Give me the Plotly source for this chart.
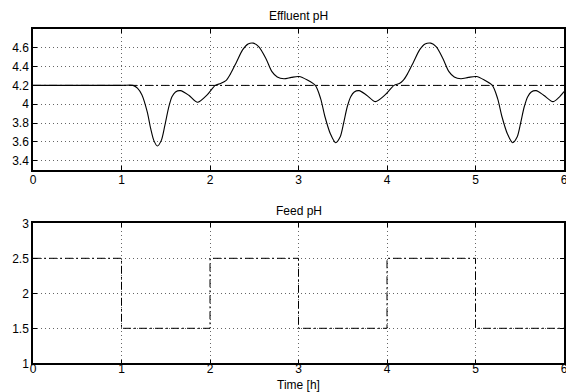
import plotly.graph_objects as go

# Effluent pH (time in hours, pH)
eff_t = [0.0, 0.5, 1.0, 1.13, 1.18, 1.23, 1.29, 1.33, 1.365, 1.405, 1.45, 1.49, 1.53, 1.57, 1.61,
         1.665, 1.76, 1.86, 1.965, 2.06, 2.12, 2.18, 2.23, 2.3, 2.37, 2.43, 2.49, 2.55, 2.63, 2.70,
         2.76, 2.835, 2.92, 3.005, 3.10, 3.19, 3.25, 3.30, 3.36, 3.42, 3.47, 3.51, 3.55, 3.59, 3.63,
         3.685, 3.77, 3.87, 3.975, 4.08, 4.14, 4.18, 4.23, 4.3, 4.37, 4.43, 4.495, 4.555, 4.63, 4.70,
         4.76, 4.835, 4.92, 5.01, 5.10, 5.19, 5.25, 5.30, 5.36, 5.42, 5.47, 5.51, 5.55, 5.59, 5.63,
         5.685, 5.77, 5.875, 5.94, 6.0]
eff_ph = [4.2, 4.2, 4.2, 4.2, 4.17, 4.10, 3.92, 3.74, 3.615, 3.556, 3.615, 3.775, 3.954, 4.078, 4.13,
          4.144, 4.096, 4.02, 4.096, 4.2, 4.22, 4.25, 4.32, 4.45, 4.58, 4.64, 4.65, 4.613, 4.49, 4.346,
          4.289, 4.27, 4.285, 4.294, 4.257, 4.20, 4.06, 3.864, 3.686, 3.59, 3.65, 3.80, 3.97, 4.08, 4.13,
          4.144, 4.096, 4.027, 4.096, 4.2, 4.22, 4.25, 4.32, 4.45, 4.58, 4.64, 4.65, 4.613, 4.49, 4.346,
          4.289, 4.27, 4.285, 4.294, 4.257, 4.20, 4.06, 3.864, 3.686, 3.59, 3.65, 3.80, 3.97, 4.08, 4.13,
          4.144, 4.096, 4.027, 4.07, 4.135]

# Setpoint
sp_t = [0, 6]
sp_ph = [4.2, 4.2]

# Feed pH (step changes)
feed_t = [0, 1, 2, 3, 4, 5, 6]
feed_ph = [2.5, 1.5, 2.5, 1.5, 2.5, 1.5, 1.5]

x_ticks = [0, 1, 2, 3, 4, 5, 6]
top_yticks = [3.4, 3.6, 3.8, 4.0, 4.2, 4.4, 4.6]
top_ylabels = ["3.4", "3.6", "3.8", "4", "4.2", "4.4", "4.6"]
bot_yticks = [1, 1.5, 2, 2.5, 3]
bot_ylabels = ["1", "1.5", "2", "2.5", "3"]

FONT = "Liberation Sans, Arial, Helvetica, sans-serif"
DASHDOT = "8px,3px,2px,3px"

fig = go.Figure()
fig.add_trace(go.Scatter(x=sp_t, y=sp_ph, mode="lines", xaxis="x", yaxis="y",
                         line=dict(color="black", width=1, dash=DASHDOT), showlegend=False))
fig.add_trace(go.Scatter(x=eff_t, y=eff_ph, mode="lines", xaxis="x", yaxis="y",
                         line=dict(color="black", width=1.1, shape="spline", smoothing=0.8),
                         showlegend=False))
fig.add_trace(go.Scatter(x=feed_t, y=feed_ph, mode="lines", xaxis="x2", yaxis="y2",
                         line=dict(color="black", width=1, dash=DASHDOT, shape="hv"),
                         showlegend=False))

xd = [33 / 566, 564 / 566]
axis_common = dict(showline=True, linecolor="black", linewidth=1.5, mirror="ticks",
                   ticks="inside", ticklen=4, tickcolor="black", tickwidth=1,
                   showgrid=True, gridcolor="#666666", gridwidth=1, griddash="1px,3px",
                   zeroline=False, automargin=False, ticklabeloverflow="allow",
                   tickfont=dict(family=FONT, size=12, color="black"))

fig.update_layout(
    width=566, height=392,
    margin=dict(l=0, r=0, t=0, b=0),
    paper_bgcolor="white", plot_bgcolor="white",
    template="none",
    font=dict(family=FONT, size=12, color="black"),
    xaxis=dict(domain=xd, range=[0, 6], tickvals=x_ticks, anchor="y",
               ticklabelstandoff=-2, **axis_common),
    yaxis=dict(domain=[1 - 170 / 392, 1 - 29 / 392], range=[3.3, 4.8],
               tickvals=top_yticks, ticktext=top_ylabels, anchor="x", **axis_common),
    xaxis2=dict(domain=xd, range=[0, 6], tickvals=x_ticks, anchor="y2",
                ticklabelstandoff=-6, **axis_common),
    yaxis2=dict(domain=[1 - 363.3 / 392, 1 - 223.3 / 392], range=[1, 3],
                tickvals=bot_yticks, ticktext=bot_ylabels, anchor="x2", **axis_common),
    annotations=[
        dict(text="Effluent pH", x=(33 + 564) / 2 / 566, y=1 - 16 / 392, xref="paper", yref="paper",
             showarrow=False, xanchor="center", yanchor="middle", font=dict(family=FONT, size=12)),
        dict(text="Feed pH", x=(33 + 564) / 2 / 566, y=1 - 211 / 392, xref="paper", yref="paper",
             showarrow=False, xanchor="center", yanchor="middle", font=dict(family=FONT, size=12)),
        dict(text="Time [h]", x=(33 + 564) / 2 / 566, y=1 - 385 / 392, xref="paper", yref="paper",
             showarrow=False, xanchor="center", yanchor="middle", font=dict(family=FONT, size=12)),
    ],
)

fig.write_html("out.html", config={"displayModeBar": False},
               post_script="document.body.style.margin='0';document.body.style.overflow='hidden';")
